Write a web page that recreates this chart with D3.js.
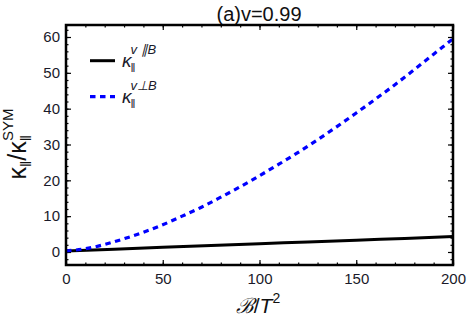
<!DOCTYPE html>
<html><head><meta charset="utf-8">
<script src="https://cdn.jsdelivr.net/npm/d3@7"></script>
<style>
body{margin:0;background:#fff;}
text{font-family:"Liberation Sans",Arial,sans-serif;}
</style></head>
<body><svg id="c" width="468" height="321"></svg>
<script>
// ---- data ----
const xParallel = [0, 25, 50, 75, 100, 125, 150, 175, 200];
const kParallel = [0.3, 0.8, 1.3, 1.8, 2.3, 2.8, 3.3, 3.8, 4.3];
const xPerp = [0, 10, 20, 30, 40, 50, 60, 70, 80, 90, 100, 110, 120, 130, 140, 150, 160, 170, 180, 190, 200];
const kPerp = [0.3, 0.9, 2.1, 3.7, 5.5, 7.6, 10.0, 12.5, 15.3, 18.2, 21.3, 24.5, 27.8, 31.3, 35.0, 38.8, 42.7, 46.7, 50.9, 55.2, 59.5];
const xMajor = [0, 50, 100, 150, 200];
const yMajor = [0, 10, 20, 30, 40, 50, 60];
const xMinor = d3.range(0, 201, 10);
const yMinor = d3.range(-2, 63, 2);
const title = "(a)v=0.99";

const svg = d3.select("#c");
const L = 66, R = 453, T = 25, B = 265;
const x = d3.scaleLinear([0, 200], [L, R]);
const y = d3.scaleLinear([-3.63, 63.35], [B, T]);

// title
svg.append("text").attr("x", 259).attr("y", 20.5).attr("text-anchor", "middle")
  .attr("font-size", 20).attr("fill", "#111").text(title);

// axes
function styleAx(g){ g.select(".domain").remove(); g.selectAll("line").attr("stroke","#000").attr("stroke-width",1.2); g.selectAll("text").attr("font-size",15).attr("fill","#1a1a2a").attr("font-family","Liberation Sans, Arial, sans-serif"); }
svg.append("g").attr("transform",`translate(0,${B})`)
  .call(d3.axisBottom(x).tickValues(xMajor).tickSize(-5).tickPadding(8).tickFormat(d3.format("d"))).call(styleAx);
svg.append("g").attr("transform",`translate(0,${B})`)
  .call(d3.axisBottom(x).tickValues(xMinor).tickSize(-2.5).tickFormat("")).call(styleAx);
svg.append("g").attr("transform",`translate(0,${T})`)
  .call(d3.axisTop(x).tickValues(xMajor).tickSize(-5).tickFormat("")).call(styleAx);
svg.append("g").attr("transform",`translate(0,${T})`)
  .call(d3.axisTop(x).tickValues(xMinor).tickSize(-2.5).tickFormat("")).call(styleAx);
svg.append("g").attr("transform",`translate(${L},0)`)
  .call(d3.axisLeft(y).tickValues(yMajor).tickSize(-5).tickPadding(6).tickFormat(d3.format("d"))).call(styleAx);
svg.append("g").attr("transform",`translate(${L},0)`)
  .call(d3.axisLeft(y).tickValues(yMinor).tickSize(-2.5).tickFormat("")).call(styleAx);
svg.append("g").attr("transform",`translate(${R},0)`)
  .call(d3.axisRight(y).tickValues(yMajor).tickSize(-5).tickFormat("")).call(styleAx);
svg.append("g").attr("transform",`translate(${R},0)`)
  .call(d3.axisRight(y).tickValues(yMinor).tickSize(-2.5).tickFormat("")).call(styleAx);

// clip
svg.append("clipPath").attr("id","clip").append("rect").attr("x",L).attr("y",T).attr("width",R-L).attr("height",B-T);

const line = d3.line().x(d=>x(d[0])).y(d=>y(d[1])).curve(d3.curveMonotoneX);
svg.append("path").attr("clip-path","url(#clip)")
  .attr("d", line(xParallel.map((v,i)=>[v,kParallel[i]])))
  .attr("fill","none").attr("stroke","#000").attr("stroke-width",3);
svg.append("path").attr("clip-path","url(#clip)")
  .attr("d", line(xPerp.map((v,i)=>[v,kPerp[i]])))
  .attr("fill","none").attr("stroke","#0000ff").attr("stroke-width",3.2).attr("stroke-dasharray","5.5,4.5");

// frame
svg.append("rect").attr("x",L).attr("y",T).attr("width",R-L).attr("height",B-T)
  .attr("fill","none").attr("stroke","#000").attr("stroke-width",2.5);

// legend
svg.append("line").attr("x1",90).attr("x2",115).attr("y1",60.7).attr("y2",60.7).attr("stroke","#000").attr("stroke-width",3);
svg.append("line").attr("x1",90).attr("x2",115).attr("y1",96.7).attr("y2",96.7).attr("stroke","#0000ff").attr("stroke-width",3.2).attr("stroke-dasharray","5.5,4.5");
function legText(yb, sup){
  const t = svg.append("text").attr("x",122).attr("y",yb).attr("fill","#1a1a2a").attr("font-style","italic");
  t.append("tspan").attr("font-size",19).text("κ");
  t.append("tspan").attr("font-size",12).attr("font-style","normal").attr("dy",5).attr("dx",-1).text("‖");
  t.append("tspan").attr("font-size",13).attr("dx",-5).attr("dy",-18).text(sup);
}
legText(67, "v \u2225B");
legText(103, "v\u22A5B");

// y label
const yl = svg.append("text").attr("transform","translate(26,144) rotate(-90)").attr("text-anchor","middle").attr("fill","#111");
yl.append("tspan").attr("font-size",25).text("κ");
yl.append("tspan").attr("font-size",15).attr("dy",5).text("‖");
yl.append("tspan").attr("font-size",25).attr("dy",-5).text("/κ");
yl.append("tspan").attr("font-size",15).attr("dy",5).text("‖");
yl.append("tspan").attr("font-size",15).attr("dx",-6).attr("dy",-18).text("SYM");

// x label
const xl = svg.append("text").attr("x",258).attr("y",313).attr("text-anchor","middle").attr("fill","#111").attr("font-size",21);
xl.append("tspan").attr("font-family","DejaVu Serif, serif").attr("font-style","italic").text("ℬ");
xl.append("tspan").text("/");
xl.append("tspan").attr("font-style","italic").text("T");
xl.append("tspan").attr("font-size",14).attr("dy",-10).text("2");
</script></body></html>
